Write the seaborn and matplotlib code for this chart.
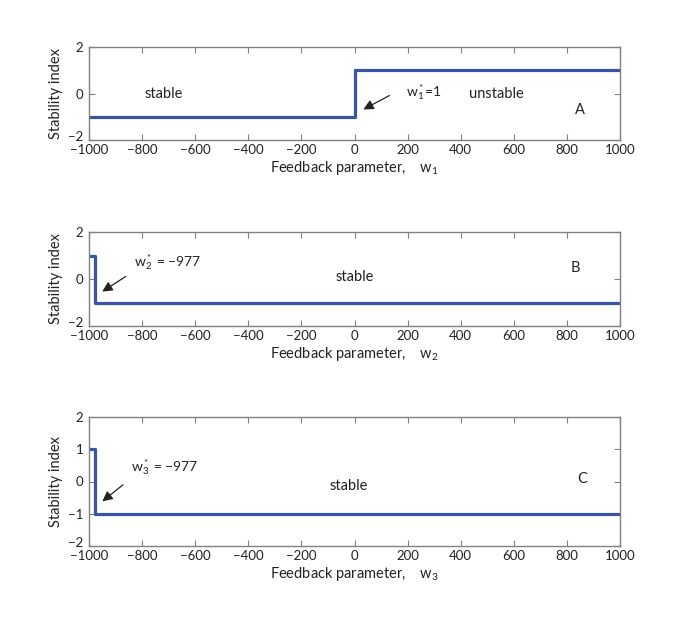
import matplotlib
matplotlib.use("Agg")
import matplotlib.pyplot as plt
import matplotlib.transforms as mtransforms
import seaborn as sns
import pandas as pd

# ---- data ----
w1_breaks = [-1000, 1, 1000]
s1_values = [-1, 1, 1]
w2_breaks = [-1000, -977, 1000]
s2_values = [1, -1, -1]
w3_breaks = [-1000, -977, 1000]
s3_values = [1, -1, -1]
x_ticks = [-1000, -800, -600, -400, -200, 0, 200, 400, 600, 800, 1000]
y_ticks_ab = [-2, 0, 2]
y_ticks_c = [-2, -1, 0, 1, 2]

sns.set_style("ticks")
FONT = ["Lato", "DejaVu Sans"]
plt.rcParams["font.family"] = FONT
plt.rcParams["mathtext.fontset"] = "custom"
plt.rcParams["mathtext.rm"] = "Lato"
plt.rcParams["mathtext.it"] = "Lato"
plt.rcParams["axes.edgecolor"] = "#808080"
plt.rcParams["axes.linewidth"] = 1.0
plt.rcParams["xtick.color"] = "#808080"
plt.rcParams["ytick.color"] = "#808080"
plt.rcParams["xtick.labelcolor"] = "#222222"
plt.rcParams["ytick.labelcolor"] = "#222222"

LINE = "#3a54a4"
TXT = "#222222"

fig = plt.figure(figsize=(6.85, 6.19), dpi=100)
axA = fig.add_axes([89/685, 1-140/619, 531/685, 93/619])
axB = fig.add_axes([89/685, 1-326/619, 531/685, 94/619])
axC = fig.add_axes([89/685, 1-546/619, 531/685, 129/619])

panels = [
    (axA, w1_breaks, s1_values, y_ticks_ab, "1"),
    (axB, w2_breaks, s2_values, y_ticks_ab, "2"),
    (axC, w3_breaks, s3_values, y_ticks_c, "3"),
]
for ax, xs, ys, yt, idx in panels:
    df = pd.DataFrame({"w": xs, "s": ys})
    sns.lineplot(data=df, x="w", y="s", ax=ax, color=LINE, linewidth=2.3,
                 drawstyle="steps-post", estimator=None, sort=False)
    ax.set_xlim(-1000, 1000)
    ax.set_ylim(-2, 2)
    ax.set_xticks(x_ticks)
    ax.set_xticklabels([str(t).replace("-", "\u2212") for t in x_ticks])
    ax.set_yticks(yt)
    ax.set_yticklabels([str(t).replace("-", "\u2212") for t in yt])
    ax.tick_params(direction="in", length=4, width=0.8, top=True, right=True,
                   labelsize=9.5)
    ax.tick_params(axis="x", pad=3)
    ax.tick_params(axis="y", pad=4)
    # nudge the lowest y tick label up a little so it clears the x tick labels
    low = ax.get_yticklabels()[0]
    low.set_transform(low.get_transform() +
                      mtransforms.ScaledTranslation(0, 3/72, fig.dpi_scale_trans))
    ax.set_ylabel("Stability index", fontsize=10.5, color=TXT, labelpad=4)
    ax.set_xlabel("Feedback parameter,    w$_{" + idx + "}$", fontsize=10.5,
                  color=TXT, labelpad=2)
    for sp in ax.spines.values():
        sp.set_visible(True)
        sp.set_color("#808080")

arrow = dict(arrowstyle="-|>", color="#222222", lw=0.9, mutation_scale=15)

# Panel A
axA.text(-717, 0, "stable", fontsize=10.5, color=TXT, ha="center", va="center")
axA.text(194, 0.05, "w$_1^*$=1", fontsize=10, color=TXT, ha="left", va="center")
axA.text(533, 0, "unstable", fontsize=10.5, color=TXT, ha="center", va="center")
axA.text(849, -0.7, "A", fontsize=10.5, color=TXT, ha="center", va="center")
axA.annotate("", xy=(24, -0.74), xytext=(141, -0.03), arrowprops=arrow)

# Panel B
axB.text(-830, 0.72, "w$_2^*$ = \u2212977", fontsize=10, color=TXT, ha="left", va="center")
axB.text(0, 0.09, "stable", fontsize=10.5, color=TXT, ha="center", va="center")
axB.text(831, 0.47, "B", fontsize=10.5, color=TXT, ha="center", va="center")
axB.annotate("", xy=(-959, -0.6), xytext=(-853, 0.17), arrowprops=arrow)

# Panel C
axC.text(-842, 0.45, "w$_3^*$ = \u2212977", fontsize=10, color=TXT, ha="left", va="center")
axC.text(-21, -0.14, "stable", fontsize=10.5, color=TXT, ha="center", va="center")
axC.text(857, 0.08, "C", fontsize=10.5, color=TXT, ha="center", va="center")
axC.annotate("", xy=(-958, -0.67), xytext=(-864, -0.05), arrowprops=arrow)

fig.savefig("out.png", dpi=100)
